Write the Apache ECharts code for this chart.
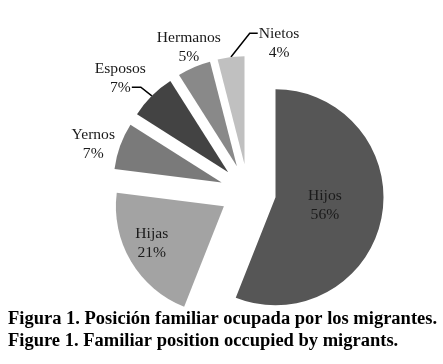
<!DOCTYPE html>
<html>
<head>
<meta charset="utf-8">
<script src="https://cdn.jsdelivr.net/npm/echarts@6/dist/echarts.min.js"></script>
<style>html,body{margin:0;padding:0;background:#fff;}#c{width:443px;height:364px;}</style>
</head>
<body>
<div id="c"></div>
<script>
const categories = ["Hijos", "Hijas", "Yernos", "Esposos", "Hermanos", "Nietos"];
const values = [56, 21, 7, 7, 5, 4];
const titleLines = ["Figura 1. Posición familiar ocupada por los migrantes.", "Figure 1. Familiar position occupied by migrants."];

// styling / placement (kept separate from data)
const colors = ["#565656", "#a3a3a3", "#7a7a7a", "#434343", "#898989", "#c0c0c0"];
const CENTER = [248, 192], RADIUS = 108, EXPLODE = 28;
// label placement: polar [distance from pie centre, angle clockwise from 12 o'clock]
const labelPolar = {
  Hijos: [78, 99.6], Hijas: [109, 242], Yernos: [162, 287.2],
  Esposos: [171, 311.7], Hermanos: [156, 337.7], Nietos: [152, 11.8]
};
// leader lines: which labels have one, and where they attach
const leader = { Esposos: { side: 'right', dy: 9, w: 9 }, Nietos: { side: 'left', dy: -10, w: 8 } };

const total = values.reduce((a, b) => a + b, 0);
const bisector = [];
let cum = 0;
values.forEach(v => { bisector.push((cum + v / 2) / total * 360); cum += v; });
const polar = (r, deg) => {
  const t = deg * Math.PI / 180;
  return [CENTER[0] + r * Math.sin(t), CENTER[1] - r * Math.cos(t)];
};

const chart = echarts.init(document.getElementById('c'));
const sliceData = categories.map((name, i) => ({
  name, value: values[i], selected: true,
  itemStyle: { color: colors[i] },
  select: { itemStyle: { color: colors[i] } }
}));
const labelData = categories.map((name, i) => ({
  name, value: values[i],
  labelLine: { show: !!leader[name] }
}));
const common = { type: 'pie', center: CENTER, radius: RADIUS, startAngle: 90, clockwise: true, emphasis: { disabled: true } };
chart.setOption({
  animation: false,
  title: {
    text: titleLines.join('\n'),
    left: 8, top: 308, padding: 0,
    textStyle: { fontFamily: 'Liberation Serif', fontWeight: 'bold', fontSize: 18.5, color: '#000', lineHeight: 22 }
  },
  series: [Object.assign({}, common, {
    selectedMode: 'multiple',
    selectedOffset: EXPLODE,
    data: sliceData,
    itemStyle: { borderWidth: 0 },
    label: { show: false },
    labelLine: { show: false }
  }), Object.assign({}, common, {
    silent: true,
    selectedMode: false,
    data: labelData,
    itemStyle: { color: 'rgba(0,0,0,0)', borderWidth: 0 },
    label: {
      position: 'outside',
      formatter: p => p.name + '\n' + Math.round(p.percent) + '%',
      fontFamily: 'Liberation Serif', fontSize: 15.6, color: '#1a1a1a', lineHeight: 19, align: 'center'
    },
    labelLine: { length: 10, length2: 8, lineStyle: { color: '#000', width: 1.5 } },
    labelLayout: params => {
      const name = categories[params.dataIndex];
      const [r, a] = labelPolar[name];
      const [x, y] = polar(r, a);
      const out = { x, y, align: 'center', verticalAlign: 'middle' };
      const L = leader[name];
      if (L) {
        const edge = polar(RADIUS + EXPLODE, bisector[params.dataIndex]);
        const hw = params.labelRect.width / 2;
        const tx = L.side === 'right' ? x + hw * 0.45 : x - hw - 1;
        const end = [tx, y + L.dy];
        const elbow = [L.side === 'right' ? tx + L.w : tx - L.w, y + L.dy];
        out.labelLinePoints = [edge, elbow, end];
      }
      return out;
    }
  })]
});
</script>
</body>
</html>
